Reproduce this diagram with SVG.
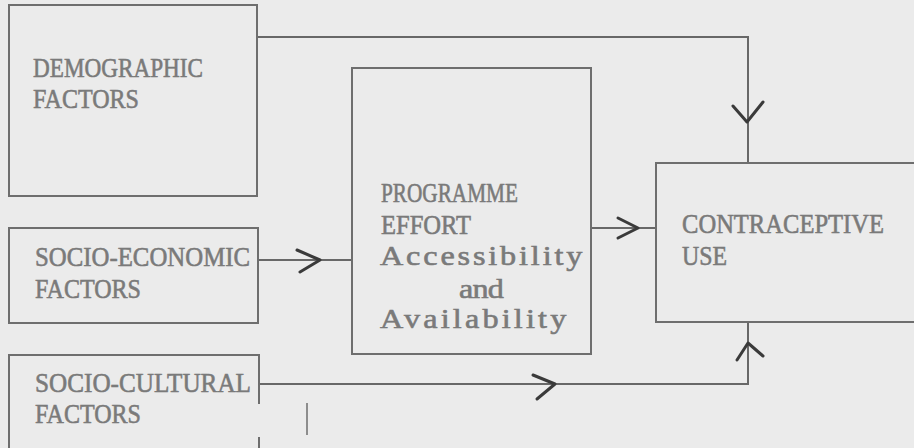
<svg xmlns="http://www.w3.org/2000/svg" width="914" height="448" viewBox="0 0 914 448">
<style>
.bg{fill:#ebebeb}
.box{fill:none;stroke:#6e6e6e;stroke-width:2}
.ln{fill:none;stroke:#686868;stroke-width:2}
.ah{fill:none;stroke:#3a3a3a;stroke-width:3;stroke-linecap:round;stroke-linejoin:round}
.t{font-family:"Liberation Serif","Times New Roman",serif;font-size:28px;fill:#7a7a7a;stroke:#7a7a7a;stroke-width:0.6}
</style>
<rect class="bg" x="0" y="0" width="914" height="448"/>
<g id="connectors">
  <path class="ln" d="M257,37 H748 V163"/>
  <path class="ah" d="M733,106 L747,122 L763,102"/>
  <path class="ln" d="M258,260 H352"/>
  <path class="ah" d="M297,250 L320,260 L300,272"/>
  <path class="ln" d="M591,228 H656"/>
  <path class="ah" d="M618,218 L638,228 L618,238"/>
  <path class="ln" d="M259,384 H748 V322"/>
  <path class="ah" d="M533,375 L555,384 L537,399"/>
  <path class="ah" d="M737,360 L748,343 L763,356"/>
</g>
<g id="demographic">
  <rect class="box" x="9" y="5" width="248" height="191"/>
  <text class="t" x="33" y="77" textLength="170" lengthAdjust="spacingAndGlyphs">DEMOGRAPHIC</text>
  <text class="t" x="33" y="108" textLength="106" lengthAdjust="spacingAndGlyphs">FACTORS</text>
</g>
<g id="socio-economic">
  <rect class="box" x="9" y="228" width="249" height="95"/>
  <text class="t" x="35" y="266" textLength="215" lengthAdjust="spacingAndGlyphs">SOCIO-ECONOMIC</text>
  <text class="t" x="35" y="298" textLength="106" lengthAdjust="spacingAndGlyphs">FACTORS</text>
</g>
<g id="socio-cultural">
  <path class="box" d="M259,404 V355 H9 V448"/>
  <path class="box" d="M259,437 V448"/>
  <path class="box" d="M307,403 V435" style="stroke-width:1.5"/>
  <text class="t" x="35" y="392" textLength="216" lengthAdjust="spacingAndGlyphs">SOCIO-CULTURAL</text>
  <text class="t" x="35" y="423" textLength="106" lengthAdjust="spacingAndGlyphs">FACTORS</text>
</g>
<g id="programme">
  <rect class="box" x="352" y="68" width="239" height="286"/>
  <text class="t" x="381" y="202" textLength="137" lengthAdjust="spacingAndGlyphs">PROGRAMME</text>
  <text class="t" x="381" y="234" textLength="90" lengthAdjust="spacingAndGlyphs">EFFORT</text>
  <text class="t" transform="translate(380,265) scale(1.15,1)" x="0" y="0" textLength="176" lengthAdjust="spacing">Accessibility</text>
  <text class="t" transform="translate(459,298) scale(1.15,1)" x="0" y="0" textLength="39" lengthAdjust="spacing">and</text>
  <text class="t" transform="translate(380,328) scale(1.15,1)" x="0" y="0" textLength="162" lengthAdjust="spacing">Availability</text>
</g>
<g id="contraceptive">
  <path class="box" d="M916,163 H656 V322 H916"/>
  <text class="t" x="682" y="233" textLength="202" lengthAdjust="spacingAndGlyphs">CONTRACEPTIVE</text>
  <text class="t" x="682" y="265" textLength="45" lengthAdjust="spacingAndGlyphs">USE</text>
</g>
</svg>
